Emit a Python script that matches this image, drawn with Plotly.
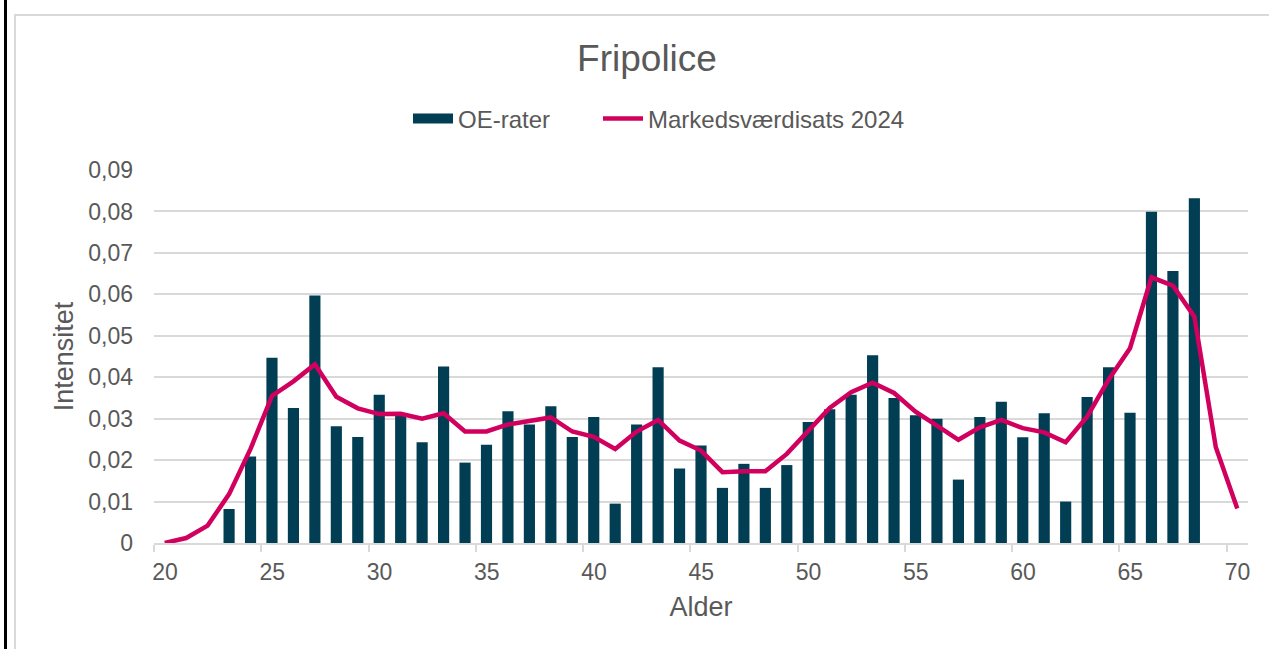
import plotly.graph_objects as go

ages_bar = list(range(23, 69))
oe_rater = [0.0082, 0.0209, 0.0447, 0.0326, 0.0597, 0.0282, 0.0256, 0.0358, 0.0308, 0.0243,
            0.0426, 0.0194, 0.0237, 0.0318, 0.0286, 0.0330, 0.0256, 0.0304, 0.0095, 0.0286,
            0.0424, 0.0180, 0.0235, 0.0133, 0.0191, 0.0133, 0.0188, 0.0292, 0.0323, 0.0358,
            0.0453, 0.0350, 0.0308, 0.0300, 0.0153, 0.0304, 0.0341, 0.0255, 0.0313, 0.0100,
            0.0352, 0.0424, 0.0314, 0.0799, 0.0656, 0.0832]

ages_line = list(range(20, 71))
markedsvaerdisats = [0.0000, 0.0012, 0.0042, 0.0118, 0.0227, 0.0355, 0.0390, 0.0431, 0.0353, 0.0325,
                     0.0311, 0.0312, 0.0300, 0.0313, 0.0269, 0.0269, 0.0286, 0.0295, 0.0303, 0.0269,
                     0.0256, 0.0227, 0.0269, 0.0297, 0.0247, 0.0223, 0.0171, 0.0173, 0.0173, 0.0215,
                     0.0272, 0.0326, 0.0364, 0.0387, 0.0362, 0.0317, 0.0283, 0.0249, 0.0279, 0.0297,
                     0.0277, 0.0267, 0.0243, 0.0305, 0.0394, 0.0470, 0.0641, 0.0621, 0.0546, 0.0231,
                     0.0083]

x_tick_labels = ["20", "25", "30", "35", "40", "45", "50", "55", "60", "65", "70"]
x_tick_pos = [int(t) - 0.5 for t in x_tick_labels]
y_tick_vals = [0, 0.01, 0.02, 0.03, 0.04, 0.05, 0.06, 0.07, 0.08, 0.09]
y_tick_text = ["0", "0,01", "0,02", "0,03", "0,04", "0,05", "0,06", "0,07", "0,08", "0,09"]

BAR_COLOR = "#013E53"
LINE_COLOR = "#D1005F"
TEXT = "#595959"
GRID = "#D9D9D9"
FONT = "Liberation Sans, Arial, sans-serif"

W, H = 1269, 649
L, R, T, B = 154, 21, 170, 106
pw, ph = W - L - R, H - T - B


def px_x(p):
    return (p - L) / pw


def px_y(p):
    return (H - B - p) / ph


fig = go.Figure()
fig.add_trace(go.Bar(x=ages_bar, y=oe_rater, name="OE-rater", width=0.52, showlegend=False,
                     legendgroup="oe", marker=dict(color=BAR_COLOR, line=dict(width=0))))
# legend entry for the bars (wide block symbol, as in the reference)
fig.add_trace(go.Scatter(x=[None], y=[None], name="OE-rater", mode="lines", legendgroup="oe",
                         legend="legend", line=dict(color=BAR_COLOR, width=14), hoverinfo="skip"))
fig.add_trace(go.Scatter(x=ages_line, y=markedsvaerdisats, name="Markedsværdisats 2024",
                         mode="lines", legend="legend2", line=dict(color=LINE_COLOR, width=4.5)))

legend_common = dict(orientation="h", yanchor="middle", xanchor="left", y=px_y(119),
                     font=dict(size=24, color=TEXT), itemwidth=40,
                     bgcolor="rgba(0,0,0,0)")

fig.update_layout(
    width=W, height=H,
    margin=dict(l=L, r=R, t=T, b=B, autoexpand=False),
    paper_bgcolor="white", plot_bgcolor="white",
    font=dict(family=FONT, color=TEXT, size=23),
    title=dict(text="Fripolice", x=647 / W, xanchor="center",
               y=1 - 58 / H, yanchor="middle", font=dict(size=37, color=TEXT, family=FONT)),
    legend=dict(x=px_x(408), **legend_common),
    legend2=dict(x=px_x(598), **legend_common),
    bargap=0.5,
    showlegend=True,
)

fig.update_xaxes(
    range=[19.5, 70.5], tickmode="array", tickvals=x_tick_pos, ticktext=x_tick_labels,
    ticklabelshift=11, ticks="outside", ticklen=7, tickcolor=GRID, tickwidth=1.5,
    showline=True, linecolor=GRID, linewidth=1.5, showgrid=False, zeroline=False,
    tickfont=dict(size=23, color=TEXT), ticklabelstandoff=1,
    title=dict(text="Alder", font=dict(size=27, color=TEXT), standoff=13),
)
fig.update_yaxes(
    range=[0, 0.09], tickmode="array", tickvals=y_tick_vals, ticktext=y_tick_text,
    showgrid=True, gridcolor=GRID, gridwidth=1.5, zeroline=False, showline=False,
    ticks="", tickfont=dict(size=23, color=TEXT), ticklabelstandoff=20,
    title=dict(text="Intensitet", font=dict(size=27, color=TEXT), standoff=6),
)

# chart frame decorations
fig.add_shape(type="line", xref="paper", yref="paper",
              x0=px_x(5.5), x1=px_x(5.5), y0=px_y(-5), y1=px_y(H + 5),
              line=dict(color="black", width=3), layer="above")
fig.add_shape(type="rect", xref="paper", yref="paper",
              x0=px_x(15), x1=px_x(W + 20), y0=px_y(15), y1=px_y(H + 20),
              line=dict(color=GRID, width=2), fillcolor="rgba(0,0,0,0)", layer="below")

fig.write_html("out.html", config={"displayModeBar": False},
               post_script="document.body.style.margin='0';document.body.style.overflow='hidden';")
